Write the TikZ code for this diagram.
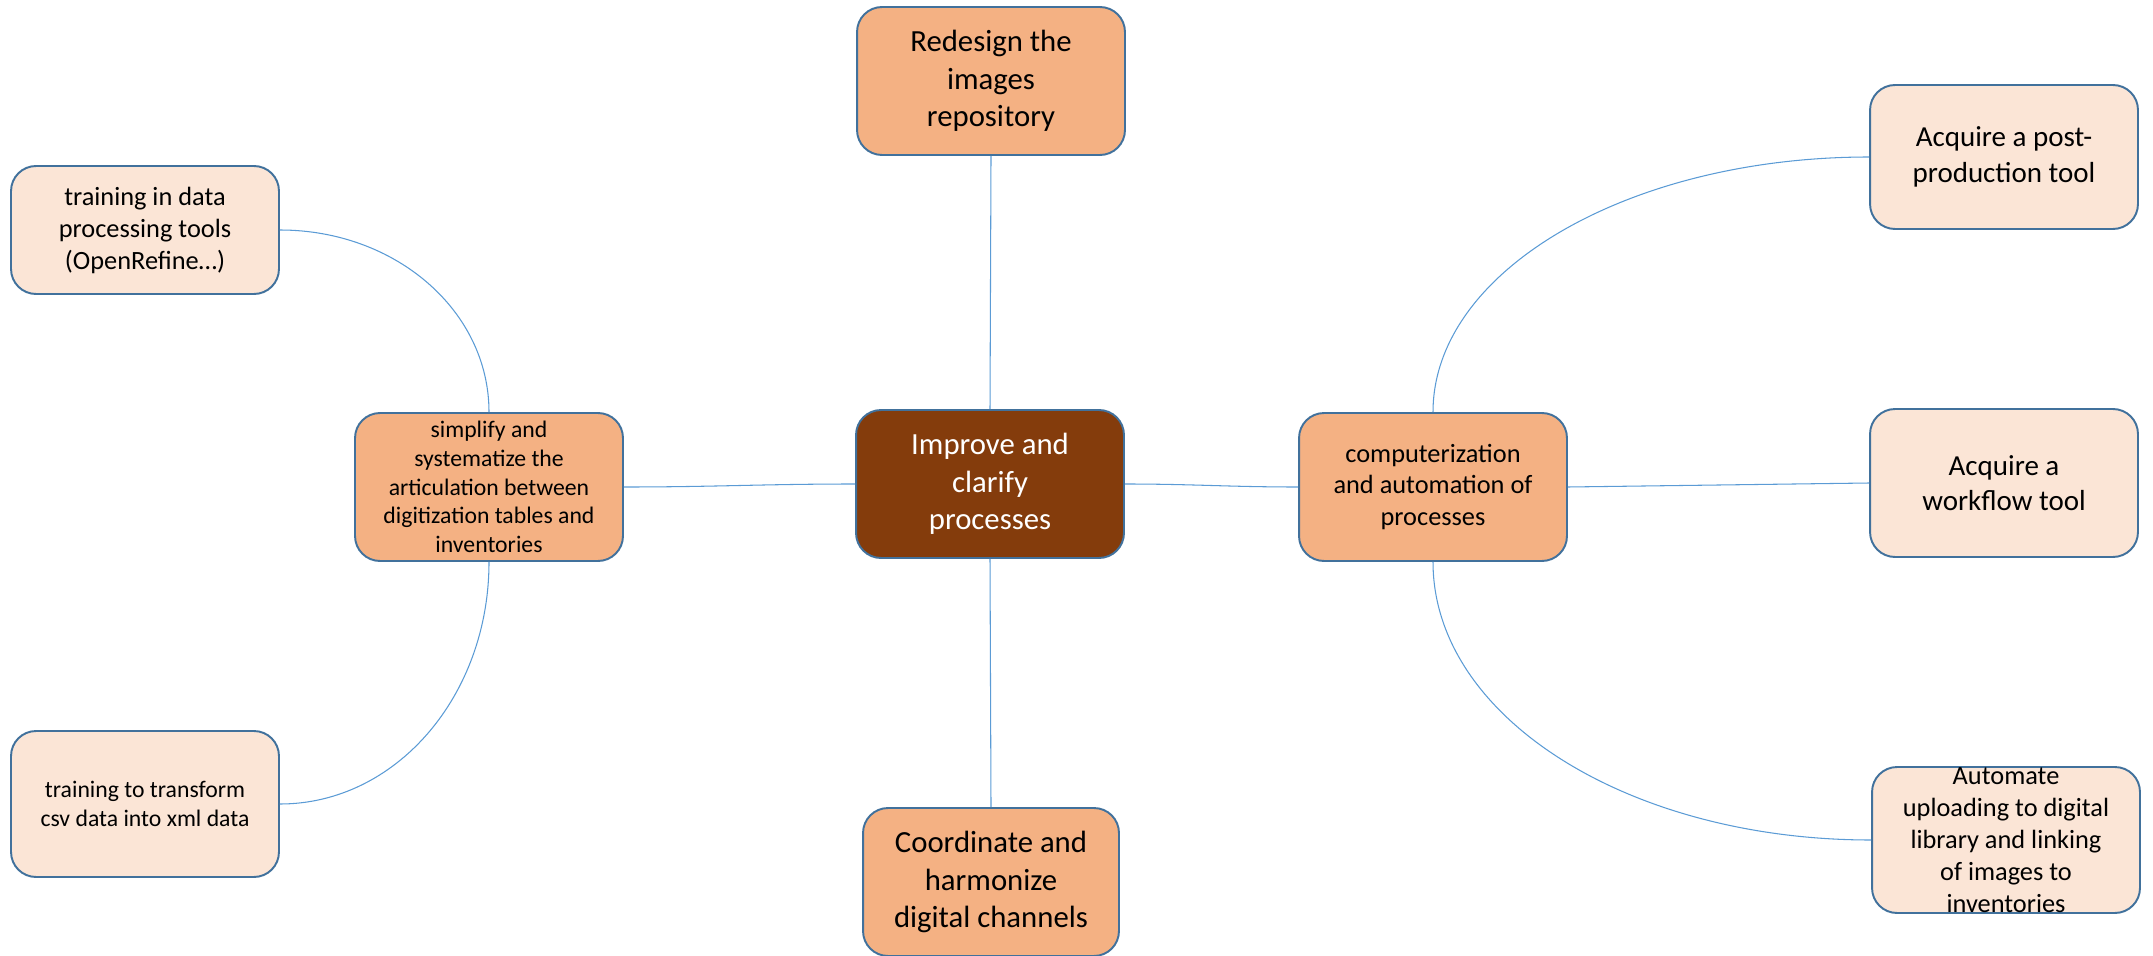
\documentclass[tikz,border=0pt]{standalone}
\usepackage{fontspec}
\setmainfont{Carlito}
\usetikzlibrary{positioning}

\definecolor{hubfill}{HTML}{843C0C}
\definecolor{branchfill}{HTML}{F4B183}
\definecolor{leaffill}{HTML}{FBE5D6}
\definecolor{boxline}{HTML}{41719C}
\definecolor{linkblue}{HTML}{5B9BD5}

\tikzset{
  box/.style={draw=boxline, line width=1.1pt, rounded corners=0.5cm,
    minimum width=5.36cm, minimum height=2.96cm, inner sep=0pt, align=center},
  hub/.style={box, fill=hubfill, text=white, font=\fontsize{17.5}{21.3}\selectfont},
  branch/.style={box, fill=branchfill},
  leaf/.style={box, fill=leaffill},
  link/.style={draw=linkblue, line width=0.6pt},
}

\begin{document}
\begin{tikzpicture}[x=0.02cm, y=-0.02cm]
    \useasboundingbox (0,0) rectangle (2153,956);

    \node [hub] (improve) at (990,484) {Improve and\\clarify\\processes};
    \node [branch, font=\fontsize{17.5}{21.3}\selectfont] (redesign) at (991,81)
        {Redesign the\\images\\repository};
    \node [branch, minimum width=5.12cm, font=\fontsize{17.5}{21.3}\selectfont] (coordinate) at (991,882)
        {Coordinate and\\harmonize\\digital channels};
    \node [branch, font=\fontsize{13.5}{16.4}\selectfont] (simplify) at (489,487)
        {simplify and\\systematize the\\articulation between\\digitization tables and\\inventories};
    \node [branch, font=\fontsize{15}{18.2}\selectfont] (computerize) at (1433,487)
        {computerization\\and automation of\\processes};

    \node [leaf, minimum height=2.56cm, font=\fontsize{15}{18.2}\selectfont] (trainrefine) at (145,230)
        {training in data\\processing tools\\(OpenRefine…)};
    \node [leaf, minimum height=2.92cm, font=\fontsize{13.5}{16.4}\selectfont] (trainxml) at (145,804)
        {training to transform\\csv data into xml data};
    \node [leaf, minimum height=2.88cm, font=\fontsize{16.5}{20.3}\selectfont] (postprod) at (2004,157)
        {Acquire a post-\\production tool};
    \node [leaf, font=\fontsize{16.5}{20.3}\selectfont] (workflow) at (2004,483)
        {Acquire a\\workflow tool};
    \node [leaf, minimum height=2.92cm] (automate) at (2006,840) {};
    \node [align=center, inner sep=0pt, font=\fontsize{15}{18.2}\selectfont] (automatetext) at (automate)
        {Automate\\uploading to digital\\library and linking\\of images to\\inventories};

    \draw [link] (improve.north) -- (redesign.south);
    \draw [link] (improve.south) -- (coordinate.north);
    \draw [link] (improve.west) to[out=180, in=0] (simplify.east);
    \draw [link] (improve.east) to[out=0, in=180] (computerize.west);
    \draw [link] (simplify.north) .. controls +(0,-101) and +(116,0) .. (trainrefine.east);
    \draw [link] (simplify.south) .. controls +(0,134) and +(116,0) .. (trainxml.east);
    \draw [link] (computerize.north) .. controls +(0,-141) and +(-241,0) .. (postprod.west);
    \draw [link] (computerize.east) -- (workflow.west);
    \draw [link] (computerize.south) .. controls +(0,155) and +(-243,0) .. (automate.west);
\end{tikzpicture}
\end{document}
